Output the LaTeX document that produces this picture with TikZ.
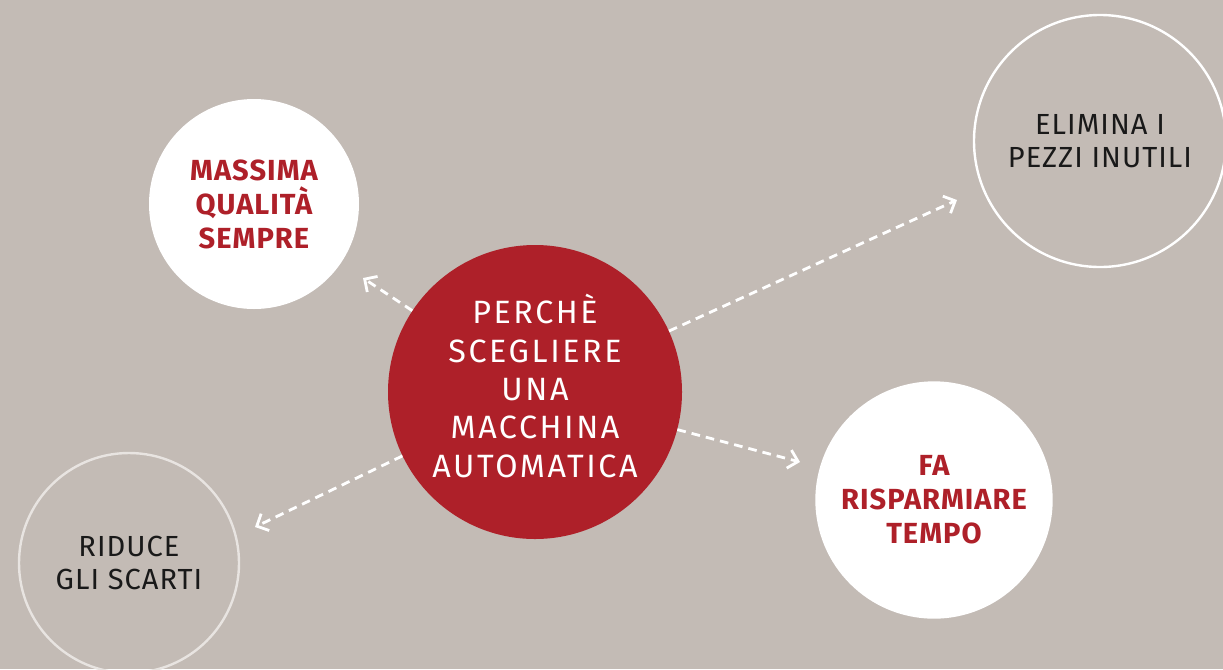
\documentclass[tikz,border=0pt]{standalone}
\usepackage{fontspec}
\setmainfont{Fira Sans}
\newfontfamily\titlefont[LetterSpace=8]{Fira Sans}
\newfontfamily\labelfont[LetterSpace=3.5]{Fira Sans}
\usetikzlibrary{arrows.meta}
\definecolor{bgtaupe}{HTML}{C3BBB5}
\definecolor{brandred}{HTML}{AE2029}
\definecolor{ringgrey}{HTML}{E8E4E1}
\begin{document}
\begin{tikzpicture}[x=0.75pt,y=-0.75pt,
  bubble/.style={circle,fill=white,text=brandred,align=center,inner sep=0pt,
    font=\labelfont\bfseries\fontsize{21.8}{25.5}\selectfont},
  ring/.style={circle,draw=white,line width=1.8pt,text=black!90,align=center,inner sep=0pt,
    font=\labelfont\fontsize{21.8}{24.75}\selectfont},
  link/.style={draw=white,line width=2.1pt,dash pattern=on 6.5pt off 4.5pt,
    -{Straight Barb[length=7pt,width=14pt]}}]
% background
\fill[bgtaupe] (0,0) rectangle (1223,669);
\useasboundingbox (0,0) rectangle (1223,669);

% central question
\node[circle,fill=brandred,minimum size=220.5pt,inner sep=0pt] (ctr) at (535,392) {};
\node[text=white,align=center,font=\titlefont\fontsize{24.2}{28.7}\selectfont]
  (ctrtext) at (535,386) {PERCHÈ\\SCEGLIERE\\UNA\\MACCHINA\\AUTOMATICA};

% answers round it
\node[bubble,minimum size=157.5pt] (qualita) at (254,204) {MASSIMA\\QUALITÀ\\SEMPRE};
\node[ring,minimum size=189pt] (pezzi) at (1100,141) {ELIMINA I\\PEZZI INUTILI};
\node[bubble,minimum size=178pt] (tempo) at (934,500) {FA\\RISPARMIARE\\TEMPO};
\node[ring,draw=ringgrey,minimum size=165pt] (scarti) at (129,563) {RIDUCE\\GLI SCARTI};

% arrow tips stop short of the circles
\coordinate (tipqualita) at (363,278);
\coordinate (tippezzi) at (957,200);
\coordinate (tiptempo) at (800,462);
\coordinate (tipscarti) at (255,527);

% dashed arrows
\draw[link] (ctr) -- (tipqualita);
\draw[link] (ctr) -- (tippezzi);
\draw[link] (ctr) -- (tiptempo);
\draw[link] (ctr) -- (tipscarti);
\end{tikzpicture}
\end{document}
